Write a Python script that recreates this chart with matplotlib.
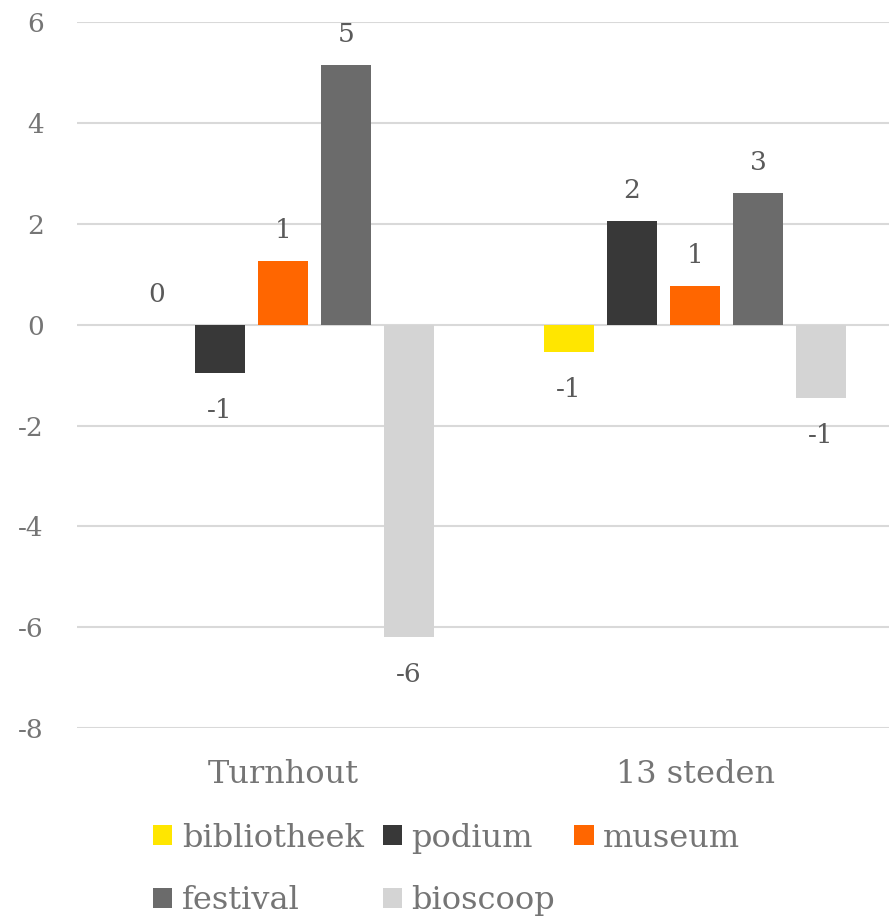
import numpy as np
import matplotlib.pyplot as plt

categories = ["Turnhout", "13 steden"]
series_names = ["bibliotheek", "podium", "museum", "festival", "bioscoop"]
bibliotheek = [0.0, -0.53]
podium = [-0.95, 2.06]
museum = [1.27, 0.77]
festival = [5.15, 2.62]
bioscoop = [-6.2, -1.45]
y_ticks = [-8, -6, -4, -2, 0, 2, 4, 6]

series_values = [bibliotheek, podium, museum, festival, bioscoop]
series_colors = ["#FFE600", "#383838", "#FF6600", "#6B6B6B", "#D4D4D4"]

plt.rcParams["font.family"] = ["DejaVu Serif"]
plt.rcParams["axes.unicode_minus"] = False
text_color = "#757575"
label_color = "#5A5A5A"

fig = plt.figure(figsize=(8.89, 9.17), dpi=100)
ax = fig.add_axes([0.0866, 0.2061, 0.927, 0.7694])

category_positions = np.arange(len(categories))
bar_width = 0.1217
bar_pitch = 0.153

bar_handles = []
for series_number, values in enumerate(series_values):
    offset = (series_number - 2) * bar_pitch
    positions = category_positions + offset
    bars = ax.bar(positions, values, width=bar_width, color=series_colors[series_number],
                  label=series_names[series_number], zorder=3)
    bar_handles.append(bars)
    for position, value in zip(positions, values):
        shown = int(np.sign(value) * np.floor(abs(value) + 0.5))
        if value >= 0:
            ax.annotate(str(shown), (position, value), xytext=(0, 13), textcoords="offset points",
                        ha="center", va="bottom", fontsize=19, color=label_color)
        else:
            ax.annotate(str(shown), (position, value), xytext=(0, -18), textcoords="offset points",
                        ha="center", va="top", fontsize=19, color=label_color)

ax.set_xlim(-0.5, 1.5)
ax.set_ylim(-8, 6)
ax.set_yticks(y_ticks)
ax.set_xticks(category_positions)
ax.set_xticklabels(categories)
ax.yaxis.grid(True, color="#D9D9D9", linewidth=1.5, zorder=0)
ax.set_axisbelow(True)
for spine in ax.spines.values():
    spine.set_visible(False)
ax.tick_params(axis="y", length=0, pad=24, labelsize=19, labelcolor=text_color)
ax.tick_params(axis="x", length=0, pad=22, labelsize=23, labelcolor=text_color)

# matplotlib fills legend columns first, so reorder to read row by row
legend_order = [0, 3, 1, 4, 2]
fig.legend([bar_handles[i] for i in legend_order], [series_names[i] for i in legend_order],
           loc="upper left", bbox_to_anchor=(0.172, 0.103), ncol=3, frameon=False,
           fontsize=23, labelcolor=text_color, handlelength=0.6, handleheight=0.6,
           handletextpad=0.3, columnspacing=0.6, borderaxespad=0, borderpad=0,
           labelspacing=1.0)

fig.savefig("out.png", dpi=100)
